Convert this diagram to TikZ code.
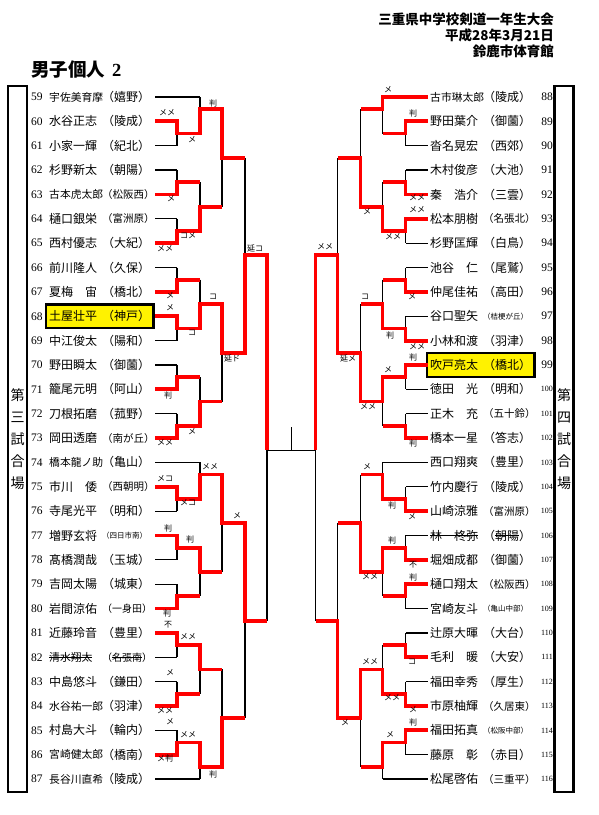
\documentclass[tikz,border=0pt]{standalone}
\usepackage{fontspec}
\setmainfont{Liberation Serif}
\newfontfamily\jp{Noto Sans CJK JP}
\usetikzlibrary{positioning, fit, backgrounds}
\newsavebox{\strkbox}
\newcommand{\strk}[1]{\sbox{\strkbox}{#1}\rlap{\rule[0.33em]{\wd\strkbox}{0.6pt}}\usebox{\strkbox}}
\tikzset{
    bk/.style={draw=black, line width=1.2pt},
    won/.style={draw=red, line width=3.8pt, line join=miter},
    pnum/.style={inner sep=0pt},
    pname/.style={inner sep=0pt, anchor=west},
    waza/.style={inner sep=0pt, font=\jp\fontsize{8}{8}\selectfont},
    hilite/.style={draw=black, line width=2.6pt, fill=yellow,
                   inner xsep=3pt, inner ysep=6pt},
    sidebar/.style={draw=black, line width=2.6pt, minimum width=19pt,
                    minimum height=706pt, inner sep=0pt},
    barlbl/.style={font=\jp\fontsize{14}{22}\selectfont, align=center, inner sep=0pt},
    head/.style={font=\jp\bfseries\fontsize{13.5}{14}\selectfont, inner sep=0pt},
}
% bracket lines of one block (row units, left-hand orientation)
\newcommand{\drawskel}{%
    \foreach \r in {1,...,14,16,17,...,27}
        \draw[bk] (155,\r) -- (177,\r);
    \foreach \r in {0,15,28}
        \draw[bk] (155,\r) -- (200,\r);
    \foreach \a in {1,3,5,7,9,11,13,16,18,20,22,24,26}
        \draw[bk] (177,\a) -- (177,{\a+1}) (177,{\a+0.5}) -- (200,{\a+0.5});
    \foreach \a/\b/\o in {0/1.5/0.5, 3.5/5.5/4.5, 7.5/9.5/8.5, 11.5/13.5/12.5,
                          15/16.5/15.5, 18.5/20.5/19.5, 22.5/24.5/23.5, 26.5/28/27.5}
        \draw[bk] (200,\a) -- (200,\b) (200,\o) -- (222,\o);
    \foreach \a/\o in {0.5/2.5, 8.5/10.5, 15.5/17.5, 23.5/25.5}
        \draw[bk] (222,\a) -- (222,{\a+4}) (222,\o) -- (245,\o);
    \draw[bk] (245,2.5) -- (245,10.5) (245,6.5) -- (267,6.5);
    \draw[bk] (245,17.5) -- (245,25.5) (245,21.5) -- (267,21.5);
    \draw[bk] (267,6.5) -- (267,21.5) (267,14.5) -- (291.25,14.5);
}

\begin{document}
\begin{tikzpicture}[x=1pt, y=-1pt]
    \useasboundingbox (0,0) rectangle (599,815);

    % header
    \node[head, anchor=east] (hd1) at (554,19) {三重県中学校剣道一年生大会};
    \node[head, anchor=east] (hd2) at (554,35) {平成28年3月21日};
    \node[head, anchor=east] (hd3) at (554,51) {鈴鹿市体育館};
    \node[anchor=west, inner sep=0pt, font=\jp\bfseries\fontsize{18.5}{19}\selectfont] (ttl)
        at (31,70) {男子個人\hspace{7pt}{\rmfamily 2}};

    % court bars
    \node[sidebar] (bar3) at (17.5,439) {};
    \node[barlbl] (lbl3) at (bar3.center) {第\\三\\試\\合\\場};
    \node[sidebar] (bar4) at (564,439) {};
    \node[barlbl] (lbl4) at (bar4.center) {第\\四\\試\\合\\場};

    % players
    \begin{scope}[shift={(0,97)}, y=-24.36pt]
        \foreach \n/\nm/\ns/\sc/\ss [count=\i from 0] in {
            59/宇佐美育摩/10.8/嬉野/12, 60/水谷正志/12/陵成/12,
            61/小家一輝/12/紀北/12, 62/杉野新太/12/朝陽/12,
            63/古本虎太郎/10.8/松阪西/10.5, 64/樋口銀栄/12/富洲原/10.5,
            65/西村優志/12/大紀/12, 66/前川隆人/12/久保/12,
            67/夏梅　宙/12/橋北/12, 68/土屋壮平/12/神戸/12,
            69/中江俊太/12/陽和/12, 70/野田瞬太/12/御薗/12,
            71/籠尾元明/12/阿山/12, 72/刀根拓磨/12/菰野/12,
            73/岡田透磨/12/南が丘/10.5, 74/橋本龍ノ助/10.8/亀山/12,
            75/市川　倭/12/西朝明/10.5, 76/寺尾光平/12/明和/12,
            77/増野玄将/12/四日市南/7.5, 78/髙橋潤哉/12/玉城/12,
            79/吉岡太陽/12/城東/12, 80/岩間涼佑/12/一身田/10,
            81/近藤玲音/12/豊里/12, 82/{\strk{清水翔太}}/10.8/{\strk{名張南}}/10,
            83/中島悠斗/12/鎌田/12, 84/水谷祐一郎/10.8/羽津/12,
            85/村島大斗/12/輪内/12, 86/宮崎健太郎/10.8/橋南/12,
            87/長谷川直希/10.8/陵成/12}
        {
            \node[pnum, anchor=west, font=\fontsize{11.5}{12}\selectfont] (k\n) at (31,\i) {\n};
            \node[pname, font=\jp\fontsize{\ns}{\ns}\selectfont] (n\n) at (49,\i) {\nm};
            \node[pname, font=\jp\fontsize{\ss}{\ss}\selectfont] (s\n) at (102,\i) {（\sc）};
        }
        \foreach \n/\nm/\ns/\sc/\ss [count=\i from 0] in {
            88/古市琳太郎/10.8/陵成/12, 89/野田葉介/12/御薗/12,
            90/沓名晃宏/12/西郊/12, 91/木村俊彦/12/大池/12,
            92/秦　浩介/12/三雲/12, 93/松本朋樹/12/名張北/10.5,
            94/杉野匡輝/12/白鳥/12, 95/池谷　仁/12/尾鷲/12,
            96/仲尾佳祐/12/高田/12, 97/谷口聖矢/12/桔梗が丘/7.5,
            98/小林和渡/12/羽津/12, 99/吹戸亮太/12/橋北/12,
            100/徳田　光/12/明和/12, 101/正木　充/12/五十鈴/10.5,
            102/橋本一星/12/答志/12, 103/西口翔爽/12/豊里/12,
            104/竹内慶行/12/陵成/12, 105/山崎涼雅/12/富洲原/10.5,
            106/{\strk{林　柊弥}}/12/{\strk{朝陽}}/12, 107/堀畑成都/12/御薗/12,
            108/樋口翔太/12/松阪西/10.5, 109/宮崎友斗/12/亀山中部/7.5,
            110/辻原大暉/12/大台/12, 111/毛利　暖/12/大安/12,
            112/福田幸秀/12/厚生/12, 113/市原柚輝/12/久居東/10.5,
            114/福田拓真/12/松阪中部/7.5, 115/藤原　彰/12/赤目/12,
            116/松尾啓佑/12/三重平/10.5}
        {
            \ifnum\n>99 \def\nsz{8}\else\def\nsz{11.5}\fi
            \node[pnum, anchor=east, font=\fontsize{\nsz}{12}\selectfont] (k\n) at (553,\i) {\n};
            \node[pname, font=\jp\fontsize{\ns}{\ns}\selectfont] (n\n) at (430,\i) {\nm};
            \node[pname, font=\jp\fontsize{\ss}{\ss}\selectfont] (s\n) at (483,\i) {（\sc）};
        }
    \end{scope}

    % block winners
    \begin{scope}[on background layer]
        \node[hilite, fit=(n68)(s68)] (box68) {};
        \node[hilite, fit=(n99)(s99)] (box99) {};
    \end{scope}

    % left block
    \begin{scope}[shift={(0,97)}, y=-24.36pt]
        \drawskel
        \draw[bk] (291.25,13.55) -- (291.25,14.5);
        \draw[won] (155,1) -| (177,1.5) -| (200,0.5) -| (222,2.5) -- (245,2.5);
        \draw[won] (155,4) -| (177,3.5) -- (200,3.5);
        \draw[won] (155,6) -| (177,5.5) -| (200,4.5) -- (222,4.5);
        \draw[won] (155,8) -| (177,7.5) -- (200,7.5);
        \draw[won] (155,9) -| (177,9.5) -| (200,8.5) -| (222,10.5) -| (245,6.5) -| (267,14.5);
        \draw[won] (155,12) -| (177,11.5) -- (200,11.5);
        \draw[won] (155,14) -| (177,13.5) -| (200,12.5) -- (222,12.5);
        \draw[won] (155,16) -| (177,16.5) -| (200,15.5) -| (222,17.5) -| (245,21.5) -- (267,21.5);
        \draw[won] (155,18) -| (177,18.5) -| (200,19.5) -- (222,19.5);
        \draw[won] (155,21) -| (177,20.5) -- (200,20.5);
        \draw[won] (155,22) -| (177,22.5) -| (200,23.5) -- (222,23.5);
        \draw[won] (155,25) -| (177,24.5) -- (200,24.5);
        \draw[won] (155,27) -| (177,26.5) -| (200,27.5) -| (222,25.5) -- (245,25.5);
    \end{scope}

    % right block (mirrored)
    \begin{scope}[shift={(582.5,97)}, xscale=-1, y=-24.36pt]
        \drawskel
        \draw[won] (155,0) -| (200,0.5) -- (222,0.5);
        \draw[won] (155,1) -| (177,1.5) -- (200,1.5);
        \draw[won] (155,4) -| (177,3.5) -- (200,3.5);
        \draw[won] (155,5) -| (177,5.5) -| (200,4.5) -| (222,2.5) -- (245,2.5);
        \draw[won] (155,8) -| (177,7.5) -- (200,7.5);
        \draw[won] (155,10) -| (177,9.5) -| (200,8.5) -- (222,8.5);
        \draw[won] (155,11) -| (177,11.5) -| (200,12.5) -| (222,10.5) -| (245,6.5) -| (267,14.5);
        \draw[won] (155,14) -| (177,13.5) -- (200,13.5);
        \draw[won] (155,17) -| (177,16.5) -| (200,15.5) -- (222,15.5);
        \draw[won] (155,19) -| (177,18.5) -| (200,19.5) -| (222,17.5) -- (245,17.5);
        \draw[won] (155,20) -| (177,20.5) -- (200,20.5);
        \draw[won] (155,23) -| (177,22.5) -- (200,22.5);
        \draw[won] (155,25) -| (177,24.5) -| (200,23.5) -| (222,25.5) -| (245,21.5) -- (267,21.5);
        \draw[won] (155,26) -| (177,26.5) -| (200,27.5) -- (222,27.5);
    \end{scope}

    % scores
    \foreach \x/\y/\t [count=\k] in {
        213/103/判, 167/113/メメ, 192/140/メ, 171/199/メ, 188/236/コメ,
        165/249/メメ, 255/248/延コ, 170/296/メ, 170/308/メ, 213/297/コ,
        192/333/コ, 232/358/延ド, 168/395/判, 192/432/メ, 165/443/メメ,
        210/467/メメ, 165/479/メコ, 188/503/メコ, 237/516/メ, 168/528/判,
        190/539/判, 167/613/判, 168/625/不, 188/637/メメ, 170/673/メ,
        165/711/メメ, 170/722/メ, 188/735/メメ, 165/758/メ判, 213/774/判}
        \node[waza] (wl\k) at (\x,\y) {\t};
    \foreach \x/\y/\t [count=\k] in {
        388/90/メ, 413/113/判, 417/198/メメ, 417/210/メメ, 367/212/メ,
        393/237/メメ, 325/247/メメ, 412/297/メ, 365/297/コ, 390/335/判,
        417/347/メメ, 413/357/判, 348/358/延メ, 388/370/メ, 368/407/メメ,
        413/443/判, 367/467/メ, 392/505/判, 412/517/メ, 392/540/判,
        413/565/不, 413/577/判, 370/577/メメ, 412/662/コ, 370/662/メメ,
        392/698/メメ, 413/710/メ, 413/722/判, 390/735/メ, 345/723/メ}
        \node[waza] (wr\k) at (\x,\y) {\t};
\end{tikzpicture}
\end{document}
